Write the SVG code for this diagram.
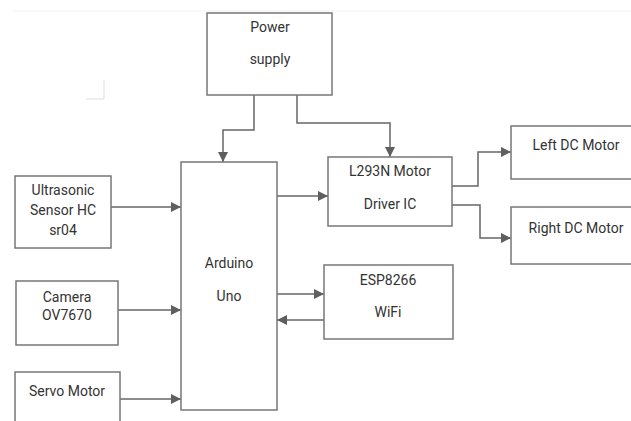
<svg xmlns="http://www.w3.org/2000/svg" width="631" height="421" viewBox="0 0 631 421">
<style>
.box{fill:#fff;stroke:#777;stroke-width:1.5}
.t{font-family:Roboto,"Liberation Sans",sans-serif;font-size:14px;fill:#333;text-anchor:middle}
.c{fill:none;stroke:#666;stroke-width:1.5}
</style>
<defs>
<marker id="ah" viewBox="0 0 10 10" refX="10" refY="5" markerWidth="10" markerHeight="10" markerUnits="userSpaceOnUse" orient="auto">
<path d="M0,0 L10,5 L0,10 z" fill="#5f5f5f"/>
</marker>
</defs>
<rect width="631" height="421" fill="#fff"/>
<line x1="13" y1="11" x2="631" y2="11" stroke="#f2f2f2" stroke-width="1"/>
<path d="M86,99 H104 V80" fill="none" stroke="#ddd" stroke-width="1"/>
<g id="connectors">
<path class="c" d="M254,95 V130 H223 V162" marker-end="url(#ah)"/>
<path class="c" d="M297,95 V123 H390 V157" marker-end="url(#ah)"/>
<path class="c" d="M277,196 H328" marker-end="url(#ah)"/>
<path class="c" d="M452,186 H478 V152 H511" marker-end="url(#ah)"/>
<path class="c" d="M452,205 H480 V238 H511" marker-end="url(#ah)"/>
<path class="c" d="M111,207 H181" marker-end="url(#ah)"/>
<path class="c" d="M118,310 H181" marker-end="url(#ah)"/>
<path class="c" d="M120,399 H181" marker-end="url(#ah)"/>
<path class="c" d="M277,294 H324" marker-end="url(#ah)"/>
<path class="c" d="M324,320 H277" marker-end="url(#ah)"/>
</g>
<g id="power">
<rect class="box" x="207" y="13" width="125" height="82"/>
<text class="t" x="270" y="32">Power</text>
<text class="t" x="270" y="64">supply</text>
</g>
<g id="arduino">
<rect class="box" x="181" y="162" width="96" height="248"/>
<text class="t" x="229" y="268">Arduino</text>
<text class="t" x="229" y="301">Uno</text>
</g>
<g id="l293n">
<rect class="box" x="328" y="157" width="124" height="69"/>
<text class="t" x="390" y="176">L293N Motor</text>
<text class="t" x="390" y="209">Driver IC</text>
</g>
<g id="left-motor">
<rect class="box" x="511" y="126" width="130" height="53"/>
<text class="t" x="576" y="150">Left DC Motor</text>
</g>
<g id="right-motor">
<rect class="box" x="511" y="207" width="130" height="57"/>
<text class="t" x="576" y="233">Right DC Motor</text>
</g>
<g id="ultrasonic">
<rect class="box" x="15" y="176" width="96" height="72"/>
<text class="t" x="63" y="195">Ultrasonic</text>
<text class="t" x="63" y="215">Sensor HC</text>
<text class="t" x="63" y="235">sr04</text>
</g>
<g id="camera">
<rect class="box" x="16" y="281" width="102" height="64"/>
<text class="t" x="67" y="302">Camera</text>
<text class="t" x="67" y="320">OV7670</text>
</g>
<g id="servo">
<rect class="box" x="15" y="372" width="105" height="60"/>
<text class="t" x="67" y="396">Servo Motor</text>
</g>
<g id="esp">
<rect class="box" x="324" y="265" width="129" height="74"/>
<text class="t" x="388" y="285">ESP8266</text>
<text class="t" x="388" y="317">WiFi</text>
</g>
</svg>
